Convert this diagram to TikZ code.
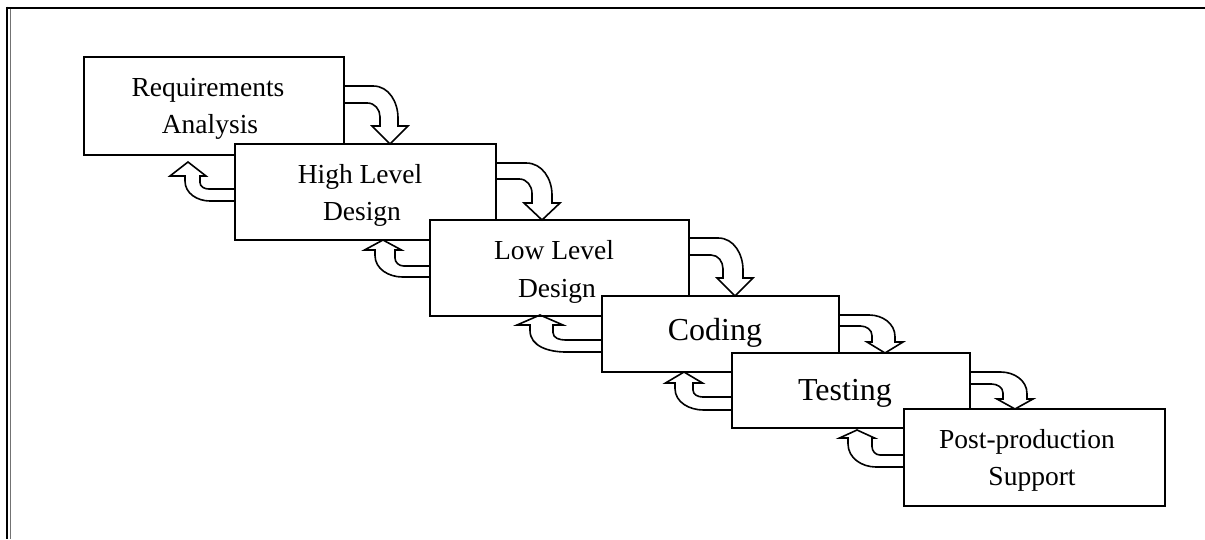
\documentclass[tikz,border=0pt]{standalone}
\usepackage{fontspec}
\setmainfont{Liberation Serif}
\usetikzlibrary{calc}
\tikzset{
  stage/.style={draw, line width=1.8pt, fill=white, rectangle, anchor=north west, inner sep=0pt, outer sep=0pt},
  stagetext/.style={anchor=base, inner sep=0pt, font=\fontsize{27.5}{37}\selectfont},
  bigtext/.style={anchor=base, inner sep=0pt, font=\fontsize{32}{37}\selectfont},
  flow/.style={line width=1.6pt, line join=miter},
  frameline/.style={line width=2.2pt}
}
\newcommand\fwdarr[8]{% #1 src, #2 yTop, #3 yBot, #4 xi, #5 xo, #6 cx, #7 base, #8 tip
  \path (#1.east); \pgfgetlastxy{\tmpRx}{\tmpRy}%
  \pgfmathsetmacro\arR{\tmpRx}%
  \pgfmathsetmacro\arao{0.46*(#5-\arR)}%
  \pgfmathsetmacro\arbo{0.8*(#7-#2)}%
  \pgfmathsetmacro\arai{0.35*(#4-\arR)}%
  \pgfmathsetmacro\arbi{0.6*(#7-#3)}%
  \draw[flow] (#1.east |- 0,#2) -- ({#5-\arao},#2) to[out=0,in=90] (#5,{#2+\arbo}) -- (#5,#7) -- ({#6+18},#7) -- (#6,#8) -- ({#6-18},#7) -- (#4,#7) -- (#4,{#3+\arbi}) to[out=90,in=0] ({#4-\arai},#3) -- (#1.east |- 0,#3);
}
\newcommand\backarr[9]{% #1 src, #2 yTop, #3 yBot, #4 xi, #5 xo, #6 cx, #7 base, #8 tip, #9 head half width
  \path (#1.west); \pgfgetlastxy{\tmpLx}{\tmpLy}%
  \pgfmathsetmacro\arL{\tmpLx}%
  \pgfmathsetmacro\arao{0.5*(\arL-#5)}%
  \pgfmathsetmacro\arbo{0.8*(#3-#7)}%
  \pgfmathsetmacro\arai{0.25*(\arL-#4)}%
  \pgfmathsetmacro\arbi{0.5*(#2-#7)}%
  \draw[flow] (#1.west |- 0,#2) -- ({#4+\arai},#2) to[out=180,in=270] (#4,{#2-\arbi}) -- (#4,#7) -- ({#6+#9},#7) -- (#6,#8) -- ({#6-#9},#7) -- (#5,#7) -- (#5,{#3-\arbo}) to[out=270,in=180] ({#5+\arao},#3) -- (#1.west |- 0,#3);
}
\begin{document}
\begin{tikzpicture}[x=1pt,y=-1pt]
\useasboundingbox (0,0) rectangle (1205,539);
% frame
\draw[frameline] (7,7.7) -- (1205,7.7);
\draw[frameline] (7,6.6) -- (7,539);
\draw[line width=1pt, black!55] (10.3,8.5) -- (10.3,539);
% boxes
\node[stage, minimum width=260pt, minimum height=98pt] (req) at (84,57) {};
\node[stage, minimum width=261pt, minimum height=96pt] (hl) at (235,144) {};
\node[stage, minimum width=259pt, minimum height=96pt] (ll) at (430,220) {};
\node[stage, minimum width=237pt, minimum height=76pt] (coding) at (602,296) {};
\node[stage, minimum width=238pt, minimum height=75pt] (testing) at (732,353) {};
\node[stage, minimum width=261pt, minimum height=97pt] (post) at (904,409) {};
% texts
\node[stagetext] (req1) at (208,96) {Requirements};
\node[stagetext] (req2) at (210,133) {Analysis};
\node[stagetext] (hl1) at (360,183) {High Level};
\node[stagetext] (hl2) at (362,220) {Design};
\node[stagetext] (ll1) at (554,259) {Low Level};
\node[stagetext] (ll2) at (557,297) {Design};
\node[bigtext] (cod1) at (715,340) {Coding};
\node[bigtext] (tst1) at (845,400) {Testing};
\node[stagetext] (pst1) at (1027,448) {Post-production};
\node[stagetext] (pst2) at (1032,485) {Support};
% forward arrows
\fwdarr{req}{86}{103}{380}{398}{390}{126}{144}
\fwdarr{hl}{163}{179}{532}{552}{542}{203}{220}
\fwdarr{ll}{238}{255}{723}{743}{735}{278}{296}
\fwdarr{coding}{315}{326}{872}{895}{885}{342}{353}
\fwdarr{testing}{372}{384}{1003}{1027}{1015}{399}{409}
% back arrows
\backarr{hl}{189}{201}{200}{185}{188}{176}{162}{18}
\backarr{ll}{266}{277}{395}{375}{383}{250}{240}{18.5}
\backarr{coding}{340}{352}{553}{530}{540}{325}{315}{23}
\backarr{testing}{397}{410}{693}{675}{684}{383}{372}{18.5}
\backarr{post}{455}{467}{872}{848}{857}{438}{430}{17.5}
\end{tikzpicture}
\end{document}
